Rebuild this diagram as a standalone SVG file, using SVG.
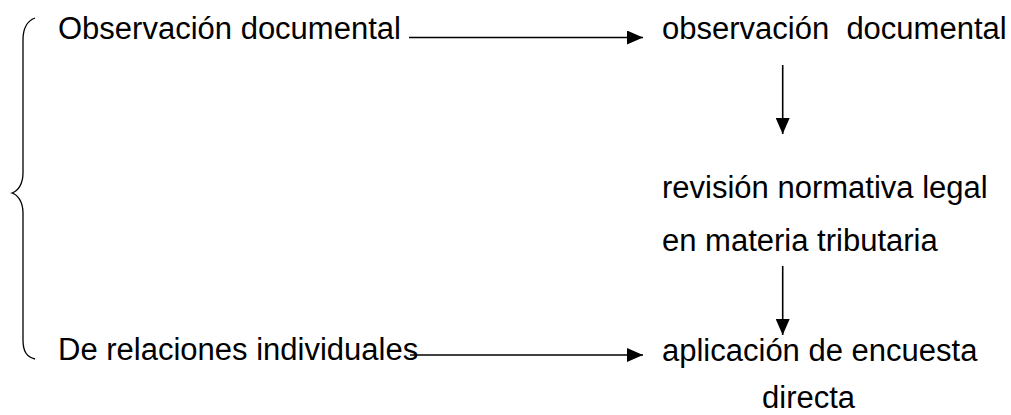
<svg xmlns="http://www.w3.org/2000/svg" width="1011" height="415" viewBox="0 0 1011 415">
<style>
text{font-family:"Liberation Sans",Arial,sans-serif;font-size:31px;fill:#000}
.c{stroke:#000;stroke-width:1.6;fill:none}
</style>
<defs>
<marker id="ah" markerUnits="userSpaceOnUse" markerWidth="16" markerHeight="14" refX="16" refY="7" orient="auto" viewBox="0 0 16 14">
<path d="M0,0 L16,7 L0,14 z" fill="#000"/>
</marker>
</defs>
<rect width="1011" height="415" fill="#fff"/>
<g id="brace"><path d="M35,18 C27,21 23,28 23,40 L23,173 C23,184 18,191 12,193 C18,195 23,202 23,213 L23,340 C23,352 27,357 35,359" stroke="#000" stroke-width="1.3" fill="none"/></g>
<g id="n1"><text x="58" y="39">Observación documental</text></g>
<g id="n2"><text x="58" y="360">De relaciones individuales</text></g>
<g id="n3"><text x="662" y="39" xml:space="preserve">observación  documental</text></g>
<g id="n4"><text x="662" y="198">revisión normativa legal</text><text x="662" y="251">en materia tributaria</text></g>
<g id="n5"><text x="662" y="361">aplicación de encuesta</text><text x="762" y="408">directa</text></g>
<g id="connectors">
<line class="c" x1="409" y1="37.5" x2="643" y2="37.5" marker-end="url(#ah)"/>
<line class="c" x1="782.7" y1="65" x2="782.7" y2="134" marker-end="url(#ah)"/>
<line class="c" x1="782.7" y1="266" x2="782.7" y2="335" marker-end="url(#ah)"/>
<line class="c" x1="410" y1="355" x2="643" y2="355" marker-end="url(#ah)"/>
</g>
</svg>
